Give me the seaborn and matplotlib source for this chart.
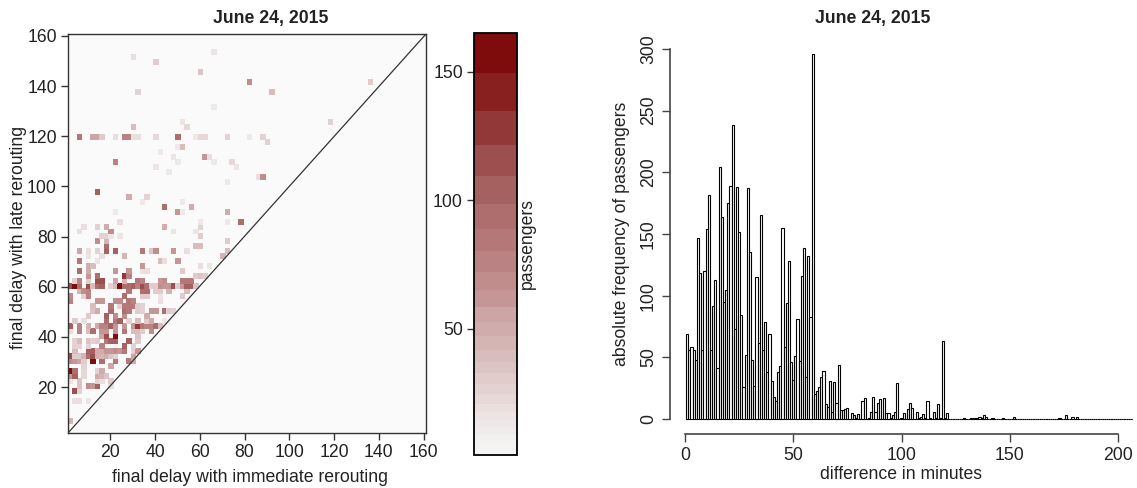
import numpy as np
import pandas as pd
import seaborn as sns
import matplotlib.pyplot as plt
from matplotlib.colors import BoundaryNorm, ListedColormap

sns.set_theme(style="ticks", font="Liberation Sans")

TITLE = "June 24, 2015"
W, H = 1137, 488
FS = 12.7

# heatmap cells, 2 minute bins: bin b covers the delay around 2*b + 2
late_rows = [2, 6, 8, 9, 10, 11, 12, 13, 14, 15, 16, 17, 18, 19, 20, 21, 22, 23, 24, 25, 26, 27, 28, 29, 30,
             31, 32, 33, 34, 35, 36, 37, 38, 39, 40, 41, 42, 44, 45, 46, 47, 48, 50, 51, 52, 53, 54, 55, 56,
             57, 58, 59, 61, 62, 65, 68, 70, 72, 74, 75, 76]
imm_by_row = [
    [0], [1, 2, 4], [1, 2], [2, 4, 5, 6, 9], [0, 2, 6, 7, 9], [0, 1, 3, 6, 7, 8], [0, 1, 3, 6, 7], [3, 9],
    [0, 1, 2, 3, 5, 7, 10, 13, 14], [0, 1, 2, 3, 4, 5, 6, 7, 8, 9, 10, 14],
    [1, 4, 5, 6, 7, 8, 9, 10, 11, 12, 14, 15], [1, 2, 4, 7, 12, 14], [1, 2, 4, 5, 6, 8, 9, 10, 13, 15],
    [7, 8, 10, 15], [0, 2, 4, 5, 7, 8, 10, 12, 14, 15, 16, 18],
    [0, 2, 4, 6, 7, 8, 9, 10, 12, 14, 15, 16, 17, 18, 19, 20], [1, 3, 8, 10, 11, 13, 15, 17, 18, 21],
    [4, 8, 10, 12, 17], [5, 6, 9, 12, 13, 15, 16, 18, 19, 21, 22, 23], [5, 9, 11, 12, 13, 14, 15, 16],
    [0, 6, 7, 10, 11, 13, 14, 20], [0, 3, 4, 12, 16, 17, 20, 25], [2, 3, 4, 13, 16, 17, 19, 20, 22, 26],
    [0, 1, 2, 4, 5, 6, 7, 9, 10, 11, 12, 13, 14, 15, 16, 17, 18, 19, 20, 21, 22, 23, 24, 25, 26, 27, 28],
    [1, 2, 4, 6, 7, 10, 12, 15, 16, 20, 21, 25, 26, 27], [4, 6, 12, 13, 28, 29, 30],
    [2, 4, 10, 13, 16, 17, 25], [4, 5, 16, 29, 31], [2, 6, 20, 21, 24], [4, 7, 12, 34],
    [2, 4, 6, 8, 10, 16, 18, 19, 23, 26, 35], [8, 28, 29], [6, 8, 35], [7, 8, 9, 11, 29], [2, 9, 23, 28],
    [3, 6, 8, 21, 29], [11, 29, 35, 38], [10, 24, 25, 35], [21, 27], [16, 25], [13, 17], [6], [35], [42, 43],
    [22], [19, 37], [10, 24, 32, 36], [23, 30, 31], [20], [24, 25], [44],
    [2, 5, 6, 7, 10, 12, 13, 14, 15, 19, 24, 28, 29, 30, 35, 40, 43], [14, 26], [25, 58], [32], [15, 45],
    [40, 67], [29], [19], [14], [32],
]
pax_by_row = [
    [45], [20, 18, 15], [110, 25], [35, 70, 65, 108, 18], [15, 35, 28, 20, 30], [60, 105, 22, 52, 45, 35],
    [165, 95, 22, 25, 50], [28, 55],
    [68, 62, 55, 30, 165, 95, 88, 82, 50], [115, 32, 30, 45, 95, 110, 48, 42, 50, 35, 25, 55],
    [40, 105, 105, 50, 50, 65, 65, 70, 65, 88, 28, 65], [28, 25, 25, 80, 102, 25],
    [25, 40, 35, 28, 30, 88, 105, 100, 108, 30],
    [55, 110, 150, 35], [20, 75, 40, 90, 60, 65, 65, 85, 40, 40, 30, 70],
    [100, 75, 45, 50, 80, 80, 100, 60, 60, 60, 130, 88, 80, 80, 90, 40], [30, 20, 90, 85, 100, 25, 40, 30, 50, 15],
    [30, 100, 70, 70, 50], [35, 50, 95, 90, 85, 30, 25, 65, 65, 90, 30, 25], [40, 85, 25, 85, 85, 85, 30, 25],
    [80, 60, 60, 70, 70, 85, 80, 20], [70, 25, 75, 90, 30, 30, 15, 30], [45, 70, 80, 85, 90, 90, 30, 30, 45, 40],
    [120, 165, 90, 115, 40, 95, 105, 25, 40, 165, 95, 95, 100, 80, 115, 90, 30, 30, 70, 60, 60, 115, 30, 60, 105, 100, 35],
    [25, 75, 30, 120, 120, 55, 45, 85, 80, 60, 70, 85, 85, 85], [60, 90, 130, 75, 30, 35, 30],
    [90, 50, 60, 65, 15, 20, 30], [50, 40, 60, 20, 15], [85, 15, 40, 20, 60], [15, 20, 45, 45],
    [55, 20, 25, 105, 100, 85, 35, 70, 65, 20, 40], [95, 40, 40], [70, 45, 30], [25, 25, 15, 15, 30], [20, 70, 15, 15],
    [20, 25, 50, 50, 25], [20, 12, 12, 95], [12, 60, 12, 50], [95, 50], [12, 12], [50, 25], [100], [12], [18, 70],
    [12], [15, 15], [75, 12, 12, 22], [15, 65, 18], [14], [12, 40], [25],
    [85, 55, 55, 30, 18, 75, 75, 18, 18, 22, 90, 12, 22, 22, 25, 12, 25], [40, 22], [15, 25], [12], [25, 40],
    [70, 30], [35], [30], [20], [15],
]

# uneven colour bands of the key, light to dark
band_edges = [1, 2.9, 4.7, 6.8, 9.1, 11.7, 14.6, 17.7, 21, 24.7, 28.6, 32.7, 37.1, 42, 47.1, 52.7, 58.7,
              65.3, 72.3, 80.1, 88.7, 98.4, 109.5, 121.4, 134.7, 149.4, 165]
band_colors = ["#f5f4f4", "#f4f3f3", "#f3f1f1", "#f2efef", "#f1ecec", "#efe8e8", "#ede4e4", "#eadede", "#e7d8d8",
               "#e4d2d2", "#e1cbcb", "#ddc4c4", "#d9bcbc", "#d5b4b4", "#d1acac", "#cda5a5", "#c59696",
               "#c08c8c", "#ba8282", "#b47878", "#ae6e6e", "#a56060", "#9d4e4e", "#923838", "#882020", "#7e0c0c"]

# histogram, one value per minute from 1 to 121, a few late ones after that
hist_counts = [69, 56, 58, 56, 48, 147, 118, 56, 120, 154, 182, 56, 92, 113, 41, 204, 164, 95, 105, 175,
               189, 238, 73, 188, 152, 84, 26, 52, 187, 135, 48, 27, 115, 62, 165, 56, 79, 38, 69, 31,
               18, 15, 38, 43, 155, 58, 94, 128, 46, 32, 51, 81, 47, 116, 139, 34, 132, 83, 296, 20,
               23, 26, 34, 39, 12, 10, 31, 6, 30, 13, 44, 7, 7, 8, 9, 0, 5, 3, 1, 4,
               0, 15, 17, 0, 1, 6, 18, 6, 13, 16, 0, 17, 5, 5, 1, 3, 6, 29, 0, 1,
               5, 0, 8, 13, 9, 0, 6, 1, 2, 4, 1, 15, 1, 0, 6, 1, 12, 1, 63, 1, 5]
tail_minutes = [129, 132, 133, 134, 135, 136, 137, 138, 139, 142, 147, 152, 173, 176, 179, 181]
tail_counts = [1, 1, 1, 1, 1, 2, 1, 3, 2, 1, 1, 2, 1, 3, 2, 2]
last_minute = 207

heat_ticks = [20, 40, 60, 80, 100, 120, 140, 160]
key_ticks = [50, 100, 150]
hist_xticks = [0, 50, 100, 150, 200]
hist_yticks = [0, 50, 100, 150, 200, 250, 300]


def pixelAxes(fig, left, top, right, bottom):
    return fig.add_axes([left / W, 1 - bottom / H, (right - left) / W, (bottom - top) / H])


def heatPlot(ax, cax):
    grid = np.full((80, 80), np.nan)
    for row, cols, vals in zip(late_rows, imm_by_row, pax_by_row, strict=True):
        for col, val in zip(cols, vals, strict=True):
            grid[row, col] = val

    norm = BoundaryNorm(band_edges, len(band_colors))
    sns.heatmap(grid, ax=ax, cbar_ax=cax, cmap=ListedColormap(band_colors), norm=norm,
                xticklabels=False, yticklabels=False,
                cbar_kws={"ticks": key_ticks, "spacing": "proportional"})
    ax.invert_yaxis()
    ax.set_facecolor("#fafafa")
    # thin edge in the cell colour, the reference cells bleed a little
    mesh = ax.collections[0]
    mesh.set_antialiased(True)
    mesh.set_edgecolor("face")
    mesh.set_linewidth(0.5)

    ax.plot([0, 1], [0, 1], transform=ax.transAxes, color="#333333", linewidth=0.9)

    ax.set_xticks([(t - 1.1) / 2 for t in heat_ticks], [str(t) for t in heat_ticks])
    ax.set_yticks([(t - 1.7) * 0.503 for t in heat_ticks], [str(t) for t in heat_ticks], rotation=0)
    ax.tick_params(length=5, width=1, color="#333333", labelsize=FS, labelcolor="#222222", pad=3)
    for s in ax.spines.values():
        s.set_visible(True)
        s.set_linewidth(1)
        s.set_color("#333333")

    ax.set_xlabel("final delay with immediate rerouting", fontsize=FS, color="#222222", labelpad=6, x=0.508)
    ax.set_ylabel("final delay with late rerouting", fontsize=FS, color="#222222", labelpad=0, y=0.491)
    ax.set_title(TITLE, fontsize=FS, fontweight="bold", color="#222222", x=0.566, pad=8)

    bar = mesh.colorbar
    bar.minorticks_off()
    bar.outline.set_visible(True)
    bar.outline.set_linewidth(1.3)
    bar.outline.set_edgecolor("black")
    cax.yaxis.set_ticks_position("left")
    cax.yaxis.set_label_position("right")
    cax.tick_params(length=5, width=1, color="#333333", labelsize=FS, labelcolor="#222222", pad=3)
    cax.set_ylabel("passengers", fontsize=FS, color="#222222", labelpad=2)


def histPlot(ax):
    minutes = np.arange(1, last_minute + 1)
    counts = np.zeros(last_minute)
    counts[:len(hist_counts)] = hist_counts
    counts[np.array(tail_minutes) - 1] = tail_counts
    df = pd.DataFrame({"minute": minutes, "count": counts})

    sns.barplot(data=df, x="minute", y="count", native_scale=True, width=1, color="white",
                saturation=1, edgecolor="black", linewidth=0.8, ax=ax)

    # same pixel positions as the reference: 0 at x=685, 200 at x=1118, 0 at y=419, 300 at y=48
    ax.set_xlim(-15 / 2.165, 463 / 2.165 - 15 / 2.165)
    ax.set_ylim(-14.7 / 1.2367, 386 / 1.2367)

    sns.despine(ax=ax)
    ax.spines["left"].set_bounds(0, 300)
    ax.spines["bottom"].set_bounds(0, 200)
    for name in ("left", "bottom"):
        ax.spines[name].set_color("#444444")
        ax.spines[name].set_linewidth(1.2)

    ax.set_xticks(hist_xticks, [str(t) for t in hist_xticks])
    ax.set_yticks(hist_yticks, [str(t) for t in hist_yticks], rotation=90, va="center")
    ax.tick_params(length=5.5, width=1, color="#444444", labelsize=FS, labelcolor="#222222", pad=4)

    ax.set_xlabel("difference in minutes", fontsize=FS, color="#222222", labelpad=1.5)
    ax.set_ylabel("absolute frequency of passengers", fontsize=FS, color="#222222")
    ax.yaxis.set_label_coords(-40 / 463, (433.7 - 233.5) / 399.7)
    ax.set_title(TITLE, fontsize=FS, fontweight="bold", color="#222222", x=0.438, pad=8)


if __name__ == "__main__":
    fig = plt.figure(figsize=(W / 100, H / 100), dpi=100)

    heatAx = pixelAxes(fig, 68, 34, 426, 433)
    keyAx = pixelAxes(fig, 474, 33, 516.5, 455)
    histAx = pixelAxes(fig, 670, 34, 1133, 433.7)

    heatPlot(heatAx, keyAx)
    histPlot(histAx)

    fig.savefig("out.png", dpi=100)
